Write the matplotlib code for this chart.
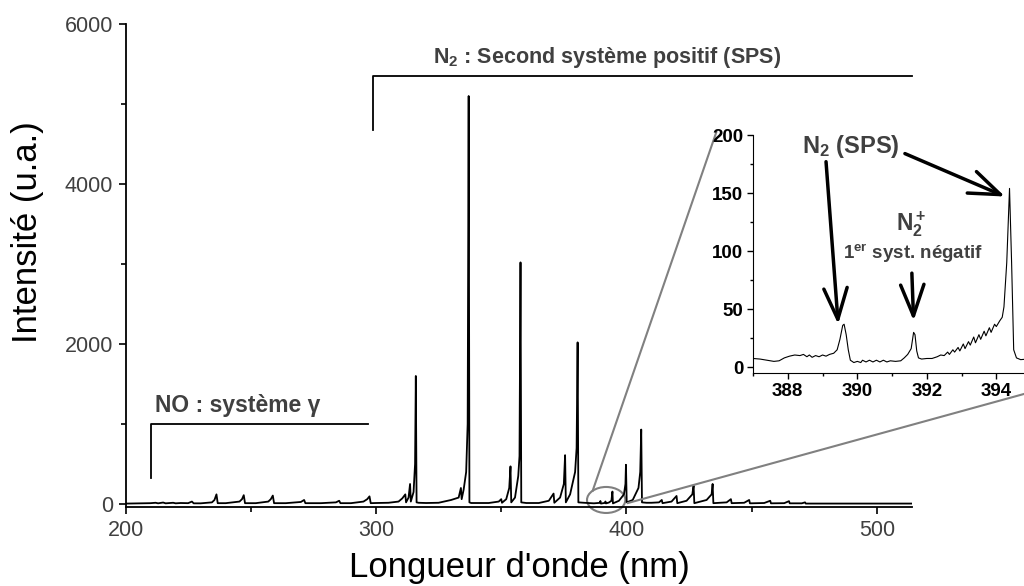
import numpy as np
import matplotlib.pyplot as plt
from matplotlib.patches import Ellipse
from matplotlib.ticker import MultipleLocator

plt.rcParams['font.family'] = ['Liberation Sans', 'DejaVu Sans']
plt.rcParams['mathtext.fontset'] = 'custom'
plt.rcParams['mathtext.rm'] = 'Liberation Sans'
plt.rcParams['mathtext.bf'] = 'Liberation Sans:bold'
plt.rcParams['mathtext.default'] = 'bf'

# ---- spectre complet ----
wl_main = [200.5, 205, 210, 212, 213, 215, 216, 219, 220, 222, 225, 226.5, 227.2, 230,
           234.5, 235.5, 236.3, 236.8, 240, 245.5, 246.5, 247.2, 247.7, 252,
           257, 258, 258.8, 259.3, 264, 270, 271.3, 271.8, 278, 284, 285.3, 285.8,
           290, 295, 296.5, 297.4, 297.9, 300, 305, 309, 310.5, 311.7, 312,
           313, 313.6, 313.9, 315.0, 315.6, 315.9, 316.2, 317, 320, 325, 330,
           333, 333.9, 334.2, 335, 336, 336.6, 337.0, 337.3, 338, 345,
           349, 350.0, 350.3, 352, 353.2, 353.7, 354.0, 355.5, 356.8, 357.3, 357.7, 358.0,
           360, 365, 369, 370.9, 371.2, 373.5, 375.0, 375.5, 375.8,
           377.5, 379.5, 380.1, 380.5, 380.8, 383, 387, 389.4, 389.6, 389.8,
           391.5, 391.6, 391.8, 393, 394, 394.4, 394.6,
           397, 399.0, 399.6, 399.8, 400.1, 402.5, 404.8, 405.5, 405.9, 406.2,
           408, 410, 413, 414.1, 414.4, 418, 420.0, 420.3, 424, 426.3, 426.8, 427.1,
           432, 434.0, 434.4, 434.7, 440, 441.7, 442, 447, 449.0, 449.3,
           455, 457.4, 457.7, 463, 464.9, 465.2, 470, 471.3, 471.6, 480, 490, 500, 514]
int_main = [5, 8, 10, 15, 8, 18, 8, 15, 8, 12, 10, 30, 8, 8,
            20, 50, 120, 10, 10, 30, 60, 110, 10, 10,
            30, 60, 105, 10, 10, 25, 50, 10, 10, 20, 40, 10,
            10, 30, 60, 95, 10, 12, 15, 30, 70, 120, 20,
            80, 250, 30, 150, 500, 1600, 20, 15, 12, 15, 50,
            80, 200, 60, 180, 400, 1000, 5100, 20, 12, 12,
            30, 60, 15, 60, 200, 470, 20, 80, 350, 600, 3020, 20,
            12, 12, 40, 130, 15, 80, 250, 610, 20,
            120, 400, 700, 2020, 20, 15, 8, 14, 37, 5,
            14, 31, 7, 18, 40, 155, 7,
            40, 120, 250, 490, 20, 50, 200, 400, 930, 20,
            15, 15, 20, 50, 10, 30, 100, 10, 40, 120, 230, 10,
            50, 120, 250, 10, 20, 60, 10, 15, 50, 8,
            12, 40, 8, 10, 35, 8, 8, 20, 5, 5, 5, 5, 5]

# ---- zoom 387-395 nm ----
wl_zoom = [387.0, 387.2, 387.4, 387.6, 387.75, 387.9, 388.05, 388.2, 388.35, 388.45,
           388.55, 388.62, 388.7, 388.8, 388.9, 389.0, 389.1, 389.2, 389.32, 389.42,
           389.5, 389.58, 389.62, 389.68, 389.74, 389.8, 389.9, 390.0, 390.1, 390.15,
           390.25, 390.35, 390.45, 390.55, 390.65, 390.75, 390.85, 390.95, 391.1, 391.25,
           391.35, 391.45, 391.55, 391.62, 391.66, 391.71, 391.76, 391.85, 392.0, 392.15,
           392.3, 392.4, 392.5, 392.6, 392.65, 392.75, 392.8, 392.9, 392.95, 393.05,
           393.1, 393.2, 393.25, 393.35, 393.4, 393.5, 393.55, 393.65, 393.7, 393.8,
           393.85, 393.95, 394.0, 394.1, 394.17, 394.22, 394.3, 394.38, 394.44, 394.5,
           394.58, 394.7, 394.9]
int_zoom = [7.5, 7, 6, 5, 5.5, 8, 9.5, 10.5, 10, 11,
            9, 10.5, 8.5, 10, 9, 10.5, 9.5, 11, 12, 15,
            24, 36, 37, 28, 15, 6, 4, 5, 4, 6,
            4.5, 6, 4.5, 6, 4.5, 6, 4.5, 5.5, 5, 5.5,
            8, 11, 16, 30, 28, 14, 8, 7, 7.5, 7.5,
            9, 10.5, 10, 13, 11, 15, 13, 17, 14, 20,
            16, 22, 19, 26, 21, 28, 24, 31, 27, 34,
            30, 37, 35, 40, 43, 52, 90, 154, 90, 15,
            8, 6.5, 7]

main_xticks = [200, 300, 400, 500]
main_yticks = [0, 2000, 4000, 6000]
zoom_xticks = [388, 390, 392, 394]
zoom_yticks = [0, 50, 100, 150, 200]

grey = '#404040'

fig = plt.figure(figsize=(10.24, 5.86), dpi=100)
ax = fig.add_axes([0.1226, 0.1348, 0.768, 0.8242])

ax.plot(wl_main, int_main, color='black', lw=1.3)
ax.set_xlim(200, 514)
ax.set_ylim(-38, 6000)
for s in ['top', 'right']:
    ax.spines[s].set_visible(False)
for s in ['left', 'bottom']:
    ax.spines[s].set_linewidth(1.3)
ax.set_xticks(main_xticks)
ax.set_yticks(main_yticks)
ax.xaxis.set_minor_locator(MultipleLocator(50))
ax.yaxis.set_minor_locator(MultipleLocator(1000))
ax.tick_params(which='major', direction='out', length=5, width=1.2,
               labelsize=15.5, labelcolor=grey, pad=4)
ax.tick_params(which='minor', direction='out', length=3.5, width=1.2)

fig.text(28 / 1024, 1 - 232 / 586, 'Intensité (u.a.)', rotation=90,
         ha='center', va='center', fontsize=25)
fig.text(519 / 1024, 1 - 568 / 586, "Longueur d'onde (nm)",
         ha='center', va='center', fontsize=25)

# crochets et textes
ax.plot([210, 210, 297], [325, 1000, 1000], color='black', lw=1.3)
ax.text(211.8, 1150, 'NO : système γ', color=grey, fontsize=16.5,
        fontweight='bold', ha='left', va='baseline')
ax.plot([299, 299, 514], [4675, 5350, 5350], color='black', lw=1.3, clip_on=False)
ax.text(322.8, 5516, r'N$_2$ : Second système positif (SPS)', color=grey,
        fontsize=15.5, fontweight='bold', ha='left', va='baseline')

# cercle et lignes de zoom
ax.add_patch(Ellipse((391.9, 50), width=15.3, height=325, fill=False,
                     edgecolor='#808080', lw=1.5, clip_on=False))
ax.plot([386.5, 435.9], [165, 4650], color='#808080', lw=1.5, clip_on=False)
ax.plot([400.6, 560.1], [12, 1387], color='#808080', lw=1.5, clip_on=False)

# ---- encart ----
axin = fig.add_axes([0.7354, 0.3635, 0.2715, 0.4061])
axin.plot(wl_zoom, int_zoom, color='black', lw=0.8)
axin.set_xlim(387, 395)
axin.set_ylim(-5, 200)
for s in ['top', 'right']:
    axin.spines[s].set_visible(False)
axin.set_xticks(zoom_xticks)
axin.set_yticks(zoom_yticks)
axin.xaxis.set_minor_locator(MultipleLocator(1))
axin.yaxis.set_minor_locator(MultipleLocator(25))
axin.tick_params(which='major', direction='out', length=4, width=1,
                 labelsize=13.5, pad=3)
axin.tick_params(which='minor', direction='out', length=2.5, width=1)
for lab in axin.get_xticklabels() + axin.get_yticklabels():
    lab.set_fontweight('bold')

axin.text(388.4, 184.5, r'N$_2$ (SPS)', color=grey, fontsize=17,
          fontweight='bold', ha='left', va='baseline')
axin.text(391.1, 118, r'N$_2^+$', color=grey, fontsize=16.5,
          fontweight='bold', ha='left', va='baseline')
axin.text(389.59, 93, r'1$^{er}$ syst. négatif', color=grey, fontsize=13.5,
          fontweight='bold', ha='left', va='baseline')

arrow = dict(arrowstyle='->,head_length=1.6,head_width=0.6', lw=2.5,
             color='black', shrinkA=0, shrinkB=0, mutation_scale=14)
axin.annotate('', xy=(389.45, 37), xytext=(389.1, 177), arrowprops=arrow)
axin.annotate('', xy=(394.25, 147), xytext=(391.37, 184), arrowprops=arrow)
axin.annotate('', xy=(391.62, 40), xytext=(391.57, 81), arrowprops=arrow)

fig.savefig('out.png', dpi=100)
